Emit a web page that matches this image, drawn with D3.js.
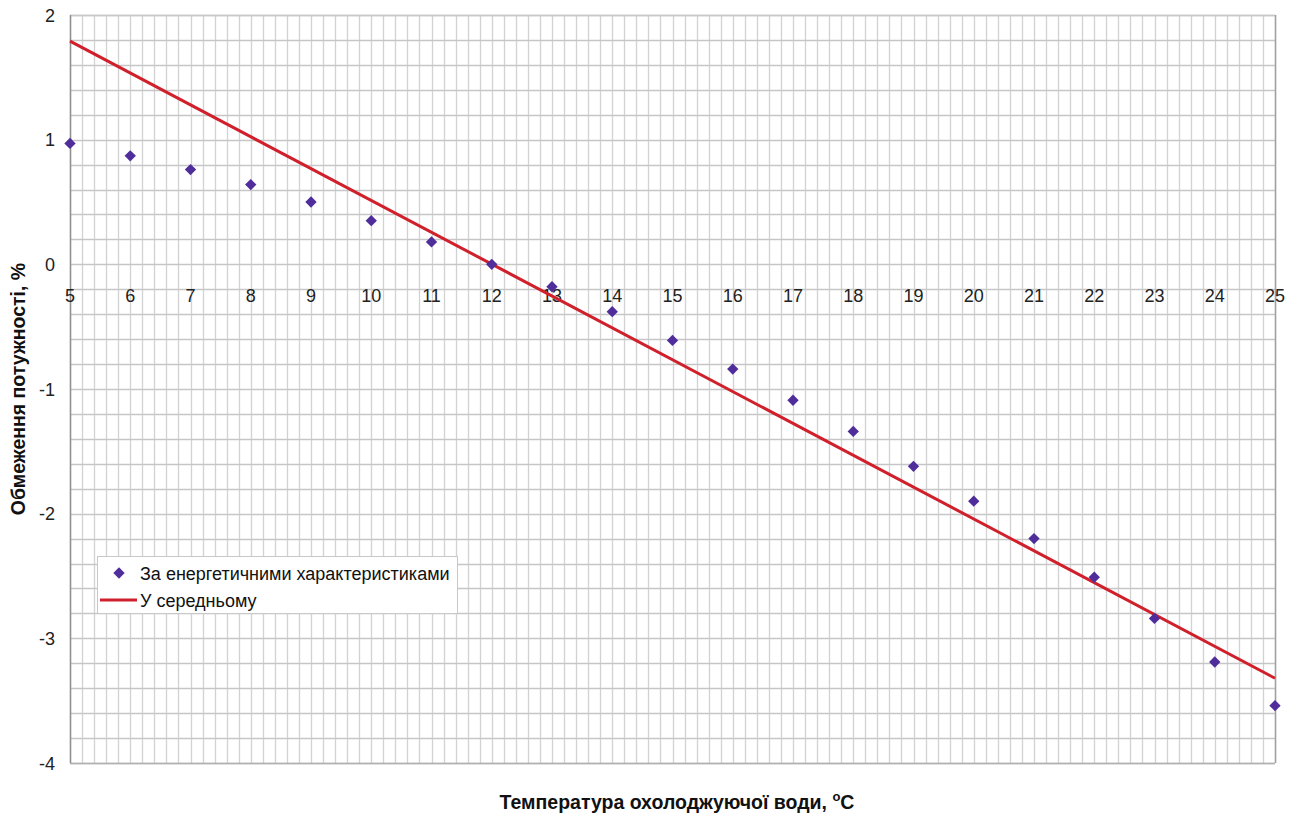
<!DOCTYPE html>
<html>
<head>
<meta charset="utf-8">
<script src="https://cdn.jsdelivr.net/npm/d3@7"></script>
<style>
  html, body { margin: 0; padding: 0; background: #fff; }
  svg { display: block; font-family: "Liberation Sans", Arial, sans-serif; }
</style>
</head>
<body>
<svg id="chart" width="1296" height="813"></svg>
<script>
// Cooling-water temperature, °C
const temperatures = [5, 6, 7, 8, 9, 10, 11, 12, 13, 14, 15, 16, 17, 18, 19, 20, 21, 22, 23, 24, 25];
// Power limitation from energy characteristics, %
const limitByCharacteristics = [0.97, 0.87, 0.76, 0.64, 0.50, 0.35, 0.18, 0.00, -0.18, -0.38, -0.61, -0.84, -1.09, -1.34, -1.62, -1.90, -2.20, -2.51, -2.84, -3.19, -3.54];
// Average (linear) limitation
const averageX = [5, 25];
const averageY = [1.79, -3.32];

const xTicks = d3.range(5, 26, 1);
const yTicks = [2, 1, 0, -1, -2, -3, -4];

const seriesNames = ["За енергетичними характеристиками", "У середньому"];
const xTitle = "Температура охолоджуючої води, ";
const yTitle = "Обмеження потужності, %";

const svg = d3.select("#chart");
const plotLeft = 70, plotRight = 1275, plotTop = 15, plotBottom = 763;

const x = d3.scaleLinear().domain([5, 25]).range([plotLeft, plotRight]);
const y = d3.scaleLinear().domain([-4, 2]).range([plotBottom, plotTop]);

// grid: minor every 0.2 in both directions
const g = svg.append("g");
const vMinor = d3.range(5, 25.001, 0.2);
const hMinor = d3.range(-4, 2.001, 0.2);
g.selectAll("line.vg").data(vMinor).join("line")
  .attr("x1", d => Math.round(x(d)) + 0.5).attr("x2", d => Math.round(x(d)) + 0.5)
  .attr("y1", plotTop).attr("y2", plotBottom)
  .attr("stroke", "#d2d2d2").attr("stroke-width", 1.3);
g.selectAll("line.hg").data(hMinor).join("line")
  .attr("y1", d => Math.round(y(d)) + 0.5).attr("y2", d => Math.round(y(d)) + 0.5)
  .attr("x1", plotLeft).attr("x2", plotRight)
  .attr("stroke", "#c6c6c6").attr("stroke-width", 1.3);

// frame
svg.append("line").attr("x1", plotLeft).attr("x2", plotRight).attr("y1", plotTop + 0.5).attr("y2", plotTop + 0.5)
  .attr("stroke", "#c8c8c8").attr("stroke-width", 1.5);
svg.append("line").attr("x1", plotLeft).attr("x2", plotRight).attr("y1", plotBottom + 0.5).attr("y2", plotBottom + 0.5)
  .attr("stroke", "#b0b0b0").attr("stroke-width", 1.5);
svg.append("line").attr("x1", plotRight + 0.5).attr("x2", plotRight + 0.5).attr("y1", plotTop).attr("y2", plotBottom)
  .attr("stroke", "#a0a0a0").attr("stroke-width", 1.5);
svg.append("line").attr("x1", plotLeft + 0.5).attr("x2", plotLeft + 0.5).attr("y1", plotTop).attr("y2", plotBottom)
  .attr("stroke", "#909090").attr("stroke-width", 1.5);

// y axis labels
svg.append("g").selectAll("text").data(yTicks).join("text")
  .attr("x", 55).attr("y", d => y(d) + 6.5)
  .attr("text-anchor", "end").attr("font-size", 18).attr("fill", "#222")
  .text(d => d);

// x axis labels (placed under the zero line)
svg.append("g").selectAll("text").data(xTicks).join("text")
  .attr("x", d => x(d)).attr("y", y(0) + 38)
  .attr("text-anchor", "middle").attr("font-size", 18).attr("fill", "#222")
  .text(d => d);

// average line
const lineGen = d3.line().x(d => x(d[0])).y(d => y(d[1]));
svg.append("path")
  .datum(averageX.map((v, i) => [v, averageY[i]]))
  .attr("d", lineGen)
  .attr("fill", "none").attr("stroke", "#d0202c").attr("stroke-width", 3);

// markers: square rotated 45° (symmetric diamond)
const diamond = d3.symbol().type(d3.symbolSquare).size(64);
svg.append("g").selectAll("path").data(temperatures).join("path")
  .attr("transform", (d, i) => `translate(${x(d)},${y(limitByCharacteristics[i])}) rotate(45)`)
  .attr("d", diamond)
  .attr("fill", "#4f2e9c");

// legend
const lg = svg.append("g");
lg.append("rect").attr("x", 97.5).attr("y", 556.5).attr("width", 360).attr("height", 57)
  .attr("fill", "#fff").attr("stroke", "#c8c8c8").attr("stroke-width", 1);
lg.append("path").attr("d", diamond).attr("transform", "translate(119,573) rotate(45)").attr("fill", "#4f2e9c");
lg.append("line").attr("x1", 100).attr("x2", 137).attr("y1", 600).attr("y2", 600)
  .attr("stroke", "#d0202c").attr("stroke-width", 3);
lg.append("text").attr("x", 140).attr("y", 579.5).attr("font-size", 18).attr("fill", "#111").text(seriesNames[0]);
lg.append("text").attr("x", 140).attr("y", 606.5).attr("font-size", 18).attr("fill", "#111").text(seriesNames[1]);

// axis titles
const xt = svg.append("text").attr("x", 677).attr("y", 809)
  .attr("text-anchor", "middle").attr("font-size", 19.5).attr("font-weight", "bold").attr("fill", "#111");
xt.append("tspan").text(xTitle);
xt.append("tspan").attr("dy", -8).attr("font-size", 13).text("o");
xt.append("tspan").attr("dy", 8).text("C");

svg.append("text")
  .attr("transform", "translate(25,389) rotate(-90)")
  .attr("text-anchor", "middle").attr("font-size", 19.5).attr("font-weight", "bold").attr("fill", "#111")
  .text(yTitle);
</script>
</body>
</html>
